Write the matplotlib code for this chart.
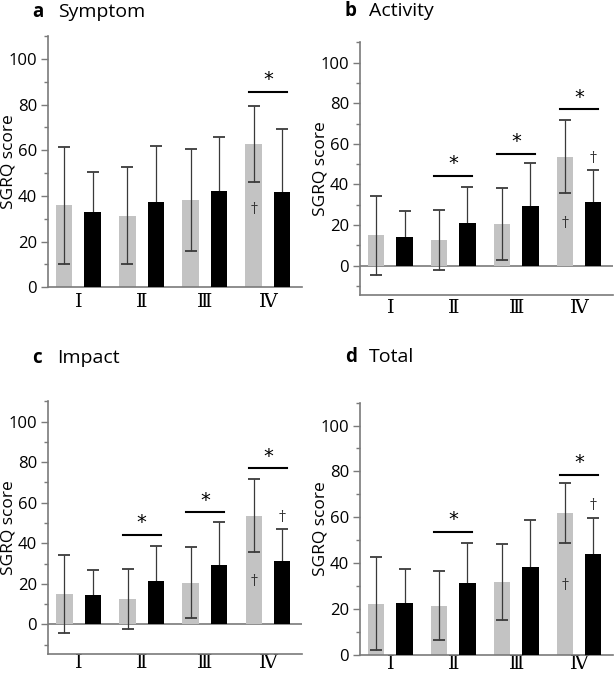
import numpy as np
import matplotlib.pyplot as plt
from matplotlib.ticker import MultipleLocator

plt.rcParams['font.family'] = ['Open Sans', 'DejaVu Sans']

groups = ['\u2160', '\u2161', '\u2162', '\u2163']

# a Symptom
symptom_gray = [35.9, 31.3, 38.2, 62.8]
symptom_gray_sd = [25.6, 21.2, 22.2, 16.8]
symptom_black = [32.8, 37.2, 42.0, 41.7]
symptom_black_sd = [17.6, 24.8, 24.0, 27.5]
symptom_sig = [3]
symptom_sig_y = [85.4]
symptom_dagger = [(3, 'gray', 34.5)]

# b Activity
activity_gray = [14.9, 12.6, 20.5, 53.7]
activity_gray_sd = [19.3, 14.8, 17.6, 17.9]
activity_black = [14.3, 21.2, 29.2, 31.2]
activity_black_sd = [12.6, 17.7, 21.5, 15.8]
activity_sig = [1, 2, 3]
activity_sig_y = [44.3, 55.2, 77.0]
activity_dagger = [(3, 'gray', 21.2), (3, 'black', 52.9)]

# c Impact
impact_gray = [14.9, 12.6, 20.5, 53.7]
impact_gray_sd = [19.3, 14.8, 17.6, 17.9]
impact_black = [14.3, 21.2, 29.2, 31.2]
impact_black_sd = [12.6, 17.7, 21.5, 15.8]
impact_sig = [1, 2, 3]
impact_sig_y = [44.3, 55.2, 77.0]
impact_dagger = [(3, 'gray', 21.2), (3, 'black', 52.9)]

# d Total
total_gray = [22.4, 21.5, 31.9, 62.0]
total_gray_sd = [20.1, 15.1, 16.6, 13.0]
total_black = [22.6, 31.2, 38.5, 44.1]
total_black_sd = [14.8, 17.7, 20.4, 15.8]
total_sig = [1, 3]
total_sig_y = [53.6, 78.4]
total_dagger = [(3, 'gray', 30.5), (3, 'black', 65.2)]

W, H = 614, 674
axis_col = '#7a7a7a'
err_col = '#3a3a3a'
gray_col = '#c3c3c3'
off = 0.225
bw = 0.26


def px(x, y):
    return x / W, 1 - y / H


def draw(rect, gray, gray_sd, black, black_sd, sig, sig_y, daggers, ymin, xpad):
    ax = fig.add_axes(rect)
    x = np.arange(len(groups))
    ax.bar(x - off, gray, bw, color=gray_col, zorder=1)
    ax.errorbar(x - off, gray, yerr=gray_sd, fmt='none', ecolor=err_col,
                elinewidth=0.9, capsize=4.5, capthick=1.3, zorder=2)
    ax.errorbar(x + off, black, yerr=black_sd, fmt='none', ecolor=err_col,
                elinewidth=0.9, capsize=4.5, capthick=1.3, zorder=2)
    ax.bar(x + off, black, bw, color='black', zorder=3)
    for g, yy in zip(sig, sig_y):
        ax.plot([g - 0.3, g + 0.3], [yy, yy], color='black', lw=1.5, zorder=4)
        ax.annotate('*', (g, yy), xytext=(0, 2), textcoords='offset points',
                    ha='center', va='bottom', fontsize=14, family='DejaVu Sans')
    for g, s, yy in daggers:
        xx = g - off if s == 'gray' else g + off
        ax.text(xx, yy, '\u2020', ha='center', va='center', fontsize=10,
                color='#333333', family='DejaVu Serif', zorder=4)
    ax.set_xlim(-0.48, 3.54)
    ax.set_ylim(ymin, 110)
    if ymin < 0:
        ax.axhline(0, color=axis_col, lw=1.2, zorder=0.5)
    ax.yaxis.set_minor_locator(MultipleLocator(10))
    ax.set_yticks([0, 20, 40, 60, 80, 100])
    ax.tick_params(axis='y', which='major', length=5, width=1, color=axis_col,
                   labelsize=12, pad=3)
    ax.tick_params(axis='y', which='minor', length=3, width=1, color=axis_col)
    ax.set_xticks(x)
    ax.set_xticklabels(groups, family=['DejaVu Serif'], fontsize=14)
    ax.tick_params(axis='x', length=0, pad=xpad)
    for s in ['top', 'right']:
        ax.spines[s].set_visible(False)
    for s in ['left', 'bottom']:
        ax.spines[s].set_color(axis_col)
        ax.spines[s].set_linewidth(1.2)
    ax.set_ylabel('SGRQ score', fontsize=12.5)
    ax.yaxis.set_label_coords(-0.125, 0.5)
    return ax


fig = plt.figure(figsize=(W / 100, H / 100), dpi=100)

draw([0.0782, 0.5737, 0.4137, 0.3728], symptom_gray, symptom_gray_sd,
     symptom_black, symptom_black_sd, symptom_sig, symptom_sig_y, symptom_dagger, 0, 4)
draw([0.5868, 0.5622, 0.4116, 0.3749], activity_gray, activity_gray_sd,
     activity_black, activity_black_sd, activity_sig, activity_sig_y, activity_dagger, -14.5, 3)
draw([0.0787, 0.0301, 0.4132, 0.3743], impact_gray, impact_gray_sd,
     impact_black, impact_black_sd, impact_sig, impact_sig_y, impact_dagger, -14.5, 0.3)
draw([0.5868, 0.0282, 0.4116, 0.3745], total_gray, total_gray_sd,
     total_black, total_black_sd, total_sig, total_sig_y, total_dagger, 0, 0.3)

titles = [('a', 'Symptom', 32, 58, 12), ('b', 'Activity', 345, 369, 11),
          ('c', 'Impact', 32, 57, 358), ('d', 'Total', 345, 369, 357)]
for letter, word, lx, wx, ty in titles:
    fig.text(*px(lx, ty), letter, fontsize=13.5, fontweight='bold', va='center')
    fig.text(*px(wx, ty), word, fontsize=14, va='center')

fig.savefig('out.png', dpi=100)
